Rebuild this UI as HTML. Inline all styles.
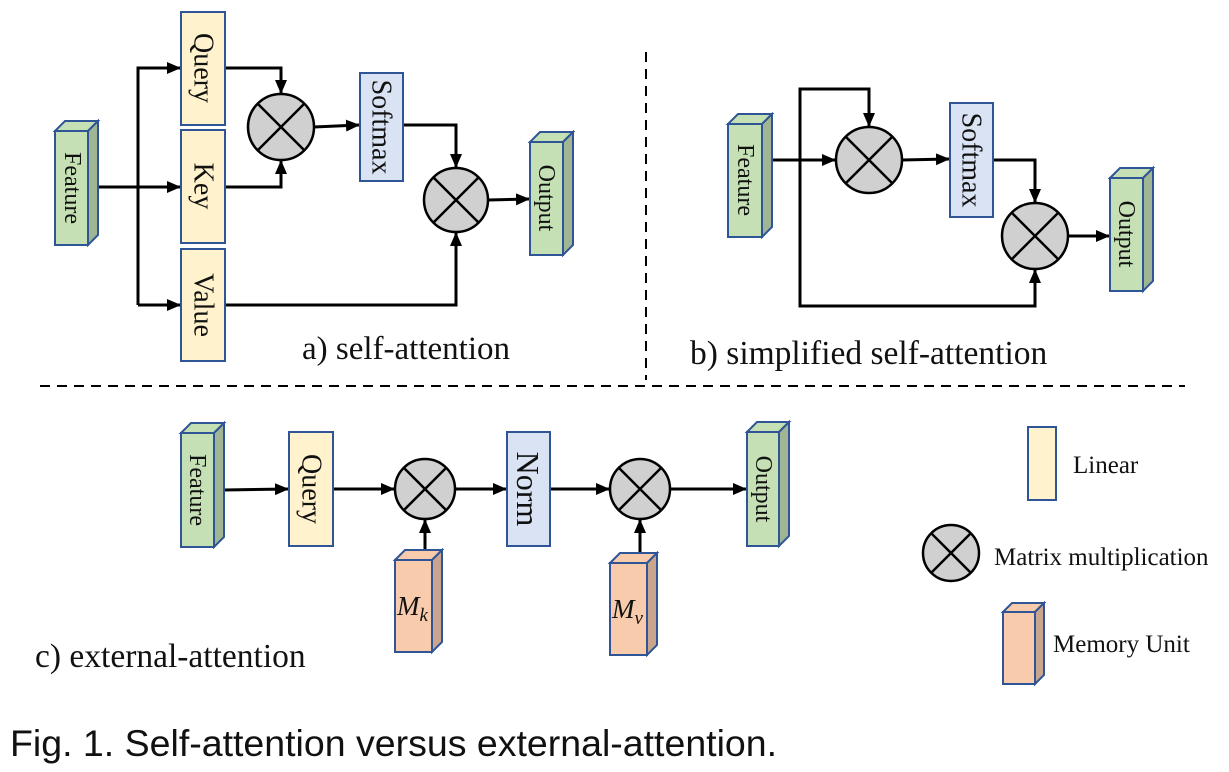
<!DOCTYPE html>
<html><head><meta charset="utf-8"><style>
html,body{margin:0;padding:0;background:#fff;}
svg{display:block;}
.t{font-family:"Liberation Serif",serif;fill:#111;}
.r{font-family:"Liberation Serif",serif;fill:#111;text-anchor:middle;dominant-baseline:central;}
</style></head><body>
<svg width="1229" height="772" viewBox="0 0 1229 772" xmlns="http://www.w3.org/2000/svg">
<defs>
<marker id="a" viewBox="0 0 14 12" refX="13" refY="6" markerWidth="14" markerHeight="12" orient="auto" markerUnits="userSpaceOnUse">
<path d="M0,0 L14,6 L0,12 z" fill="#000"/>
</marker>
</defs>
<g stroke="#000" stroke-width="3" fill="none">
<polyline points="88,187 180,187" marker-end="url(#a)"/>
<polyline points="138,305 138,68 180,68" marker-end="url(#a)"/>
<polyline points="138,305 180,305" marker-end="url(#a)"/>
<polyline points="225,68 281,68 281,93" marker-end="url(#a)"/>
<polyline points="225,187 281,187 281,161" marker-end="url(#a)"/>
<polyline points="314,127 359,125" marker-end="url(#a)"/>
<polyline points="403,125 456,125 456,167" marker-end="url(#a)"/>
<polyline points="225,305 456,305 456,233" marker-end="url(#a)"/>
<polyline points="488,200 529,199" marker-end="url(#a)"/>
<polyline points="772,160 835,160" marker-end="url(#a)"/>
<polyline points="800,160 800,89 869,89 869,126" marker-end="url(#a)"/>
<polyline points="800,160 800,306 1035,306 1035,270" marker-end="url(#a)"/>
<polyline points="902,160 949,159" marker-end="url(#a)"/>
<polyline points="993,160 1035,160 1035,202" marker-end="url(#a)"/>
<polyline points="1068,236 1109,236" marker-end="url(#a)"/>
<polyline points="224,490 288,489" marker-end="url(#a)"/>
<polyline points="333,489 394,489" marker-end="url(#a)"/>
<polyline points="455,489 506,489" marker-end="url(#a)"/>
<polyline points="550,489 609,489" marker-end="url(#a)"/>
<polyline points="670,489 746,489" marker-end="url(#a)"/>
<polyline points="425,550 425,520" marker-end="url(#a)"/>
<polyline points="640,553 640,520" marker-end="url(#a)"/>
</g>
<line x1="646" y1="52" x2="646" y2="380" stroke="#000" stroke-width="2" stroke-dasharray="10,7"/>
<line x1="40" y1="386" x2="1185" y2="386" stroke="#000" stroke-width="2" stroke-dasharray="10,7"/>

<g stroke="#2f5597" stroke-width="2">
<g fill="#c5e0b4">
<rect x="55" y="131" width="33" height="114"/><polygon points="55,131 65,121 98,121 88,131"/>
<rect x="530" y="142" width="33" height="113"/><polygon points="530,142 540,132 573,132 563,142"/>
<rect x="728" y="124" width="34" height="113"/><polygon points="728,124 738,114 772,114 762,124"/>
<rect x="1110" y="178" width="33" height="113"/><polygon points="1110,178 1120,168 1153,168 1143,178"/>
<rect x="181" y="433" width="33" height="114"/><polygon points="181,433 191,423 224,423 214,433"/>
<rect x="747" y="432" width="32" height="114"/><polygon points="747,432 757,422 789,422 779,432"/>
</g>
<g fill="#a0b594">
<polygon points="88,131 98,121 98,235 88,245"/>
<polygon points="563,142 573,132 573,245 563,255"/>
<polygon points="762,124 772,114 772,227 762,237"/>
<polygon points="1143,178 1153,168 1153,281 1143,291"/>
<polygon points="214,433 224,423 224,537 214,547"/>
<polygon points="779,432 789,422 789,536 779,546"/>
</g>
<g fill="#f8cbad">
<rect x="395" y="560" width="37" height="92"/><polygon points="395,560 405,550 442,550 432,560"/>
<rect x="610" y="563" width="37" height="92"/><polygon points="610,563 620,553 657,553 647,563"/>
<rect x="1003" y="612" width="32" height="72"/><polygon points="1003,612 1012,603 1044,603 1035,612"/>
</g>
<g fill="#c9a58d">
<polygon points="432,560 442,550 442,642 432,652"/>
<polygon points="647,563 657,553 657,645 647,655"/>
<polygon points="1035,612 1044,603 1044,675 1035,684"/>
</g>
<g fill="#fff2cc">
<rect x="181" y="12" width="44" height="113"/>
<rect x="181" y="130" width="44" height="113"/>
<rect x="181" y="249" width="44" height="112"/>
<rect x="289" y="432" width="44" height="114"/>
<rect x="1028" y="427" width="28" height="73"/>
</g>
<g fill="#dae3f3">
<rect x="360" y="73" width="43" height="108"/>
<rect x="950" y="103" width="43" height="114"/>
<rect x="507" y="432" width="43" height="114"/>
</g>
</g>
<g stroke="#000" stroke-width="2.5" fill="#d0d0d0">
<g transform="translate(281,127)"><circle r="33"/><path d="M-23,-23L23,23M23,-23L-23,23"/></g>
<g transform="translate(456,200)"><circle r="32"/><path d="M-23,-23L23,23M23,-23L-23,23"/></g>
<g transform="translate(869,160)"><circle r="33"/><path d="M-23,-23L23,23M23,-23L-23,23"/></g>
<g transform="translate(1035,236)"><circle r="33"/><path d="M-23,-23L23,23M23,-23L-23,23"/></g>
<g transform="translate(425,489)"><circle r="30"/><path d="M-21,-21L21,21M21,-21L-21,21"/></g>
<g transform="translate(640,489)"><circle r="30"/><path d="M-21,-21L21,21M21,-21L-21,21"/></g>
<g transform="translate(951,553)"><circle r="28"/><path d="M-20,-20L20,20M20,-20L-20,20"/></g>
</g>
<g class="r" font-size="24">
<text transform="translate(72,188) rotate(90)">Feature</text>
<text transform="translate(546,198) rotate(90)">Output</text>
<text transform="translate(745,180) rotate(90)">Feature</text>
<text transform="translate(1126,234) rotate(90)">Output</text>
<text transform="translate(197,490) rotate(90)">Feature</text>
<text transform="translate(763,489) rotate(90)">Output</text>
</g>
<g class="r" font-size="28">
<text transform="translate(203,68) rotate(90)">Query</text>
<text transform="translate(203,186) rotate(90)">Key</text>
<text transform="translate(203,305) rotate(90)">Value</text>
<text transform="translate(381,127) rotate(90)">Softmax</text>
<text transform="translate(971,160) rotate(90)">Softmax</text>
<text transform="translate(311,489) rotate(90)">Query</text>
</g>
<text class="r" font-size="32" transform="translate(528,489) rotate(90)">Norm</text>
<text class="t" font-size="27" font-style="italic" x="397" y="615">M<tspan font-size="19" dy="6">k</tspan></text>
<text class="t" font-size="27" font-style="italic" x="612" y="618">M<tspan font-size="19" dy="6">v</tspan></text>
<text class="t" font-size="33" x="302" y="359">a) self-attention</text>
<text class="t" font-size="33.5" x="690" y="364">b) simplified self-attention</text>
<text class="t" font-size="33.5" x="35" y="667">c) external-attention</text>
<text class="t" font-size="25" x="1073" y="473">Linear</text>
<text class="t" font-size="25" x="994" y="565">Matrix multiplication</text>
<text class="t" font-size="25" x="1053" y="652">Memory Unit</text>
<text font-family="Liberation Sans,sans-serif" font-size="37.5" fill="#111" x="10" y="756">Fig. 1. Self-attention versus external-attention.</text>
</svg>
</body></html>
